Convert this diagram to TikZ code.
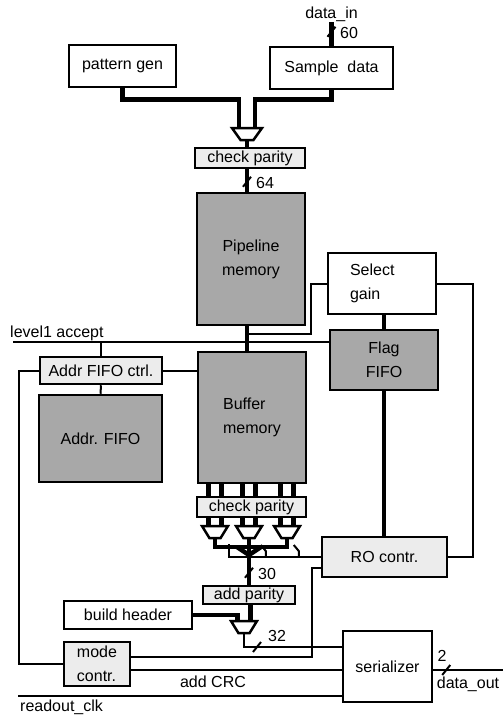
\documentclass[tikz,border=0pt]{standalone}
\usepackage{fontspec}
\setmainfont{Liberation Sans}
\usetikzlibrary{calc}
\definecolor{memgray}{HTML}{A8A8A8}
\definecolor{ctrlgray}{HTML}{ECECEC}
\tikzset{
  blk/.style={draw,line width=2.5pt,inner sep=0pt,font=\fontsize{16}{24}\selectfont},
  membox/.style={blk,fill=memgray},
  ctrlbox/.style={blk,fill=ctrlgray},
  lbl/.style={inner sep=0pt,font=\fontsize{16}{24}\selectfont},
  wire/.style={line width=2pt},
  bus/.style={line width=4.5pt},
  muxline/.style={line width=2.5pt,fill=white}
}
% mux: name, x, y, half top width, input offset
\newcommand\muxat[5]{%
  \draw[muxline] (#2-#4,#3-6) -- (#2+#4,#3-6) -- (#2+0.43*#4,#3+6) -- (#2-0.43*#4,#3+6) -- cycle;
  \coordinate (#1-a) at (#2-#5,#3-6);
  \coordinate (#1-b) at (#2+#5,#3-6);
  \coordinate (#1-out) at (#2,#3+6);}

\begin{document}
\begin{tikzpicture}[x=1pt,y=1pt,yscale=-1]
  \useasboundingbox (0,0) rectangle (503,716);

  %Blocks
  \node[blk,minimum width=107pt,minimum height=42pt] (patgen) at (122.5,66) {pattern gen};
  \node[blk,minimum width=123pt,minimum height=42pt] (sample) at (331.5,68) {Sample\ \ data};
  \node[ctrlbox,minimum width=110pt,minimum height=20pt] (chkin) at (250,158) {check parity};
  \node[membox,minimum width=108pt,minimum height=132pt,align=center] (pipe) at (251,259) {Pipeline\\memory};
  \node[blk,minimum width=108pt,minimum height=61pt,text width=64pt,align=left] (selgain) at (382,283.5) {Select\\gain};
  \node[membox,minimum width=108pt,minimum height=60pt,align=center] (flag) at (384,360) {Flag\\FIFO};
  \node[ctrlbox,minimum width=122pt,minimum height=27pt] (addrctl) at (101,370.5) {Addr FIFO ctrl.};
  \node[membox,minimum width=123pt,minimum height=87pt] (addrfifo) at (100.5,438.5) {Addr. FIFO};
  \node[membox,minimum width=108pt,minimum height=131pt,align=left] (buffer) at (252,417.5) {Buffer\\memory};
  \node[ctrlbox,minimum width=109pt,minimum height=20pt] (chkout) at (251.5,507) {check parity};
  \node[ctrlbox,minimum width=125pt,minimum height=40pt] (rocontr) at (384.5,557) {RO contr.};
  \node[ctrlbox,minimum width=92pt,minimum height=18pt] (addpar) at (249,595) {add parity};
  \node[blk,minimum width=128pt,minimum height=28pt] (header) at (128,615) {build header};
  \node[blk,minimum width=89pt,minimum height=71pt] (serial) at (387.5,666.5) {serializer};
  \node[ctrlbox,minimum width=66pt,minimum height=44pt,align=left] (mode) at (97,664) {mode\\contr.};

  %Muxes
  \muxat{mxin}{247}{134}{15}{8}
  \muxat{mx1}{215}{532}{13}{6.5}
  \muxat{mx2}{249}{532}{13}{6.5}
  \muxat{mx3}{287}{532}{13}{6.5}
  \muxat{mxout}{244}{627}{13}{6.5}

  %data in
  \draw[bus] (sample.north) -- ++(0,-24) coordinate (din);
  \node[lbl,above] (datain) at (din) {data\_in};
  \draw[wire] (din) ++(-4,15) -- ++(8,-10);
  \node[lbl,right] (w60) at (340,33) {60};

  %input buses
  \draw[bus] (patgen.south) -- ++(0,11) -| (mxin-a);
  \draw[bus] (sample.south) -- ++(0,9) -| (mxin-b);
  \draw[bus] (mxin-out) -- (mxin-out |- chkin.north);
  \draw[bus] (mxin-out |- chkin.south) -- (mxin-out |- pipe.north);
  \draw[wire] (mxin-out |- pipe.north) ++(-4,-5) -- ++(8,-10);
  \node[lbl,right] (w64) at (256,183) {64};

  %pipeline to buffer
  \coordinate (pbus) at (mxin-out |- pipe.south);
  \draw[bus] (pbus) -- (mxin-out |- buffer.north);

  %select gain and flag fifo
  \draw[wire] (selgain.west) -- ++(-16,0) |- ($(pbus)+(2,8)$);
  \draw[wire] (selgain.east) -- ++(36,0) |- (rocontr.east);
  \draw[bus] (flag.north |- selgain.south) -- (flag.north);
  \draw[bus] (flag.south) -- (flag.south |- rocontr.north);

  %level1 accept
  \coordinate (lv1) at (13,342);
  \draw[wire] (lv1) -- (lv1 -| flag.west);
  \node[lbl,anchor=south west] (lv1txt) at (10,341) {level1 accept};
  \draw[wire] (addrctl.north) -- (addrctl.north |- lv1);

  %address fifo
  \draw[wire] (addrctl.east) -- (addrctl.east -| buffer.west);
  \draw[wire] (addrctl.south) -- (addrfifo.north);
  \draw[wire] (addrctl.west) -- ++(-20,0) |- (mode.west);

  %buffer to output muxes
  \foreach \m in {mx1,mx2,mx3}{
    \foreach \p in {a,b}{
      \draw[bus] (\m-\p |- buffer.south) -- (\m-\p |- chkout.north);
      \draw[bus] (\m-\p |- chkout.south) -- (\m-\p);
    }
  }
  \path (mx2-out) ++(0,9) coordinate (tj);
  \draw[bus] (mx1-out) |- (tj) -| (mx3-out);
  \draw[bus] (mx2-out) -- (mx2-out |- addpar.north);
  \draw[bus] (tj) ++(-12,0) -- ++(12,8) -- ++(12,-8);

  %mux selects from RO contr.
  \draw[wire] (rocontr.west) -| ++(-92,-13);
  \draw[wire] (rocontr.west) ++(-55,0) -- ++(0,-6) -- ++(-5,-6);
  \draw[wire] (rocontr.west) ++(-22,0) -- ++(0,-6) -- ++(-5,-6);

  \draw[wire] (mx2-out |- addpar.north) ++(-4,-7) -- ++(8,-10);
  \node[lbl,right] (w30) at (258,574) {30};

  %header and parity to serializer
  \draw[bus] (mxout-b |- addpar.south) -- (mxout-b);
  \draw[bus] (header.east) -| (mxout-a);
  \draw[wire] (mxout-out) -- ++(0,14) coordinate (m32) -- (m32 -| serial.west);
  \draw[wire] (m32) ++(9,5) -- ++(8,-10);
  \node[lbl,right] (w32) at (268,636) {32};

  %mode contr.
  \draw[wire] ($(mode.east)+(0,-7)$) -| ($(rocontr.west)+(-9,11)$) -- ($(rocontr.west)+(0,11)$);
  \draw[wire] ($(mode.east)+(0,6)$) coordinate (crc) -- (crc -| serial.west);
  \node[lbl,below] (crctxt) at (213,676) {add CRC};

  %readout clock
  \coordinate (rclk) at (18,696);
  \draw[wire] (rclk) -- (rclk -| serial.west);
  \node[lbl,anchor=north west] (rclktxt) at (20,700) {readout\_clk};

  %data out
  \draw[wire] (crc -| serial.east) -- ++(71,0) coordinate (dout);
  \draw[wire] (crc -| serial.east) ++(9,5) -- ++(8,-10);
  \node[lbl] (w2) at (442,656) {2};
  \node[lbl] (douttxt) at (468,684) {data\_out};
\end{tikzpicture}
\end{document}
